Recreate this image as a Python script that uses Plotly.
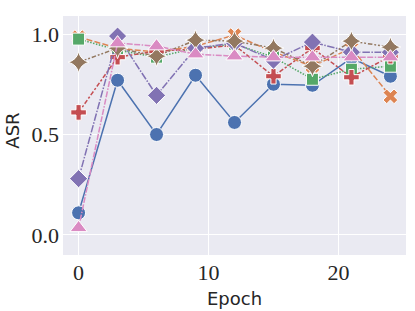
import plotly.graph_objects as go

epochs = [0, 3, 6, 9, 12, 15, 18, 21, 24]
s_blue = [0.11, 0.77, 0.50, 0.795, 0.56, 0.75, 0.745, 0.88, 0.79]
s_orange = [0.985, 0.93, 0.91, 0.94, 0.995, 0.91, 0.84, 0.93, 0.69]
s_green = [0.975, 0.92, 0.885, 0.93, 0.95, 0.885, 0.775, 0.825, 0.84]
s_red = [0.61, 0.885, 0.915, 0.925, 0.945, 0.79, 0.93, 0.785, 0.89]
s_purple = [0.28, 0.99, 0.695, 0.93, 0.955, 0.87, 0.96, 0.91, 0.91]
s_brown = [0.86, 0.93, 0.89, 0.97, 0.965, 0.93, 0.84, 0.965, 0.935]
s_pink = [0.035, 0.955, 0.94, 0.90, 0.89, 0.885, 0.885, 0.885, 0.885]

series = [
    (s_blue, "#4C72B0", "circle", "solid", 14),
    (s_orange, "#DD8452", "x", "6px,2.25px", 13),
    (s_green, "#55A868", "square", "1.5px,1.5px", 12),
    (s_red, "#C44E52", "cross", "4.5px,1.9px,2.25px,1.9px", 13),
    (s_purple, "#8172B3", "diamond", "7.5px,1.5px,1.5px,1.5px", 14),
    (s_brown, "#937860", "star-diamond", "4.5px,1.9px,1.9px,1.9px,1.9px,1.9px", 15),
    (s_pink, "#DA8BC3", "triangle-up", "6px,1.5px,6px,1.5px,1.5px,1.5px", 15),
]

fig = go.Figure()
for vals, color, sym, dash, size in series:
    fig.add_trace(go.Scatter(
        x=epochs, y=vals, mode="lines+markers",
        line=dict(color=color, width=1.5, dash=dash),
        marker=dict(symbol=sym, size=size, color=color,
                    line=dict(color="white", width=1)),
        showlegend=False, cliponaxis=False,
    ))

title_font = dict(family="DejaVu Sans", size=18, color="#262626")

fig.update_layout(
    width=415, height=311,
    margin=dict(l=63, r=9, t=16, b=56, autoexpand=False),
    paper_bgcolor="white",
    plot_bgcolor="#EAEAF2",
    xaxis=dict(
        range=[-1.2, 25.2], tickvals=[0, 10, 20], ticktext=["0", "10", "20"],
        showgrid=True, gridcolor="white", gridwidth=1.2, zeroline=False,
        automargin=False, ticklabelstandoff=2,
        tickfont=dict(family="Liberation Serif", size=22, color="#262626"),
        ticks="", ticklen=0,
    ),
    yaxis=dict(
        range=[-0.1, 1.09], tickvals=[0.0, 0.5, 1.0], ticktext=["0.0", "0.5", "1.0"],
        showgrid=True, gridcolor="white", gridwidth=1.2, zeroline=False,
        automargin=False, ticklabelstandoff=3,
        tickfont=dict(family="Liberation Serif", size=22, color="#262626"),
        ticks="", ticklen=0,
    ),
    annotations=[
        dict(text="ASR", xref="paper", yref="paper", x=-0.146, y=0.52,
             xanchor="center", yanchor="middle", textangle=-90, showarrow=False,
             font=title_font),
        dict(text="Epoch", xref="paper", yref="paper", x=0.5, y=-0.128,
             xanchor="center", yanchor="top", showarrow=False,
             font=title_font),
    ],
)

fig.write_html("out.html", config={"displayModeBar": False},
               post_script="document.body.style.margin='0';")
